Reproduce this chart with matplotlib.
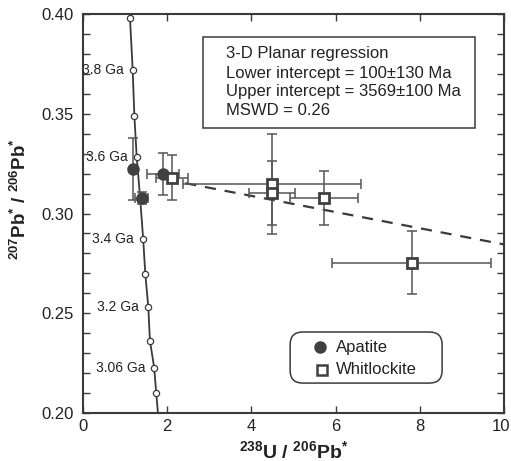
import matplotlib
matplotlib.use("Agg")
import matplotlib.pyplot as plt
import matplotlib.transforms as mtransforms
from matplotlib.patches import Rectangle, FancyBboxPatch
from matplotlib.ticker import MultipleLocator

plt.rcParams['font.family'] = ['Liberation Sans', 'DejaVu Sans']
plt.rcParams['mathtext.fontset'] = 'custom'
plt.rcParams['mathtext.rm'] = 'Liberation Sans'
plt.rcParams['mathtext.bf'] = 'Liberation Sans:bold'
plt.rcParams['mathtext.it'] = 'Liberation Sans:italic'

# Concordia curve
concordia_x = [1.11, 1.116, 1.18, 1.22, 1.275, 1.36, 1.43, 1.48, 1.55, 1.59, 1.69, 1.74, 1.78]
concordia_y = [0.400, 0.398, 0.372, 0.349, 0.3285, 0.307, 0.287, 0.2697, 0.2533, 0.2363, 0.2228, 0.210, 0.200]
# Age markers on concordia
marker_x = [1.116, 1.18, 1.22, 1.275, 1.36, 1.43, 1.48, 1.55, 1.59, 1.69, 1.74]
marker_y = [0.398, 0.372, 0.349, 0.3285, 0.307, 0.287, 0.2697, 0.2533, 0.2363, 0.2228, 0.210]
age_labels = ["", "3.8 Ga", "", "3.6 Ga", "", "3.4 Ga", "", "3.2 Ga", "", "3.06 Ga", ""]

# Apatite
apatite_x = [1.18, 1.39, 1.90]
apatite_y = [0.3222, 0.3077, 0.3198]
apatite_xerr = [0.03, 0.15, 0.37]
apatite_yerr = [0.0155, 0.003, 0.0103]

# Whitlockite
whit_x = [2.12, 4.49, 4.49, 5.73, 7.81]
whit_y = [0.3180, 0.3147, 0.3102, 0.3077, 0.2754]
whit_xerr = [0.38, 2.11, 0.55, 0.81, 1.89]
whit_yerr = [0.0113, 0.025, 0.016, 0.0135, 0.016]

# Regression line
reg_x = [2.43, 10.0]
reg_y = [0.3152, 0.2845]

xticks = [0, 2, 4, 6, 8, 10]
yticks = [0.20, 0.25, 0.30, 0.35, 0.40]

box_lines = ["3-D Planar regression",
             "Lower intercept = 100\u00b1130 Ma",
             "Upper intercept = 3569\u00b1100 Ma",
             "MSWD = 0.26"]

fig = plt.figure(figsize=(5.11, 4.61), dpi=100)
ax = fig.add_axes([83/511, 1-413/461, 421/511, 399/461])

dark = '#3a3a3a'
ebc = '#555555'

# concordia
ax.plot(concordia_x, concordia_y, color=dark, lw=1.3, zorder=2)
ax.plot(marker_x, marker_y, 'o', ms=4.5, mfc='white', mec=dark, mew=0.9, zorder=3)
for x, y, lab in zip(marker_x, marker_y, age_labels):
    if lab:
        ax.annotate(lab, (x, y), xytext=(-6.5, 0), textcoords='offset points',
                    ha='right', va='center', fontsize=10, color='#222222')

# regression dashed line
ax.plot(reg_x, reg_y, color=dark, lw=1.6, ls=(0, (5, 4)), zorder=2)

# error bars
ax.errorbar(apatite_x, apatite_y, xerr=apatite_xerr, yerr=apatite_yerr, fmt='none',
            ecolor=ebc, elinewidth=1.1, capsize=3.5, capthick=1.1, zorder=4)
ax.errorbar(whit_x, whit_y, xerr=whit_xerr, yerr=whit_yerr, fmt='none',
            ecolor=ebc, elinewidth=1.1, capsize=3.5, capthick=1.1, zorder=4)
ax.plot(apatite_x, apatite_y, 'o', ms=8, color='#404040', zorder=5)
ax.plot(whit_x, whit_y, 's', ms=7.5, mfc='white', mec='#404040', mew=2.0, zorder=5)

ax.set_xlim(0, 10)
ax.set_ylim(0.20, 0.40)
ax.set_xticks(xticks)
ax.set_yticks(yticks)
ax.set_xticklabels([str(t) for t in xticks])
ax.set_yticklabels([f"{t:.2f}" for t in yticks])
ax.yaxis.set_minor_locator(MultipleLocator(0.01))
ax.tick_params(which='both', direction='in', top=True, right=True, length=5,
               width=1.0, color=dark, labelsize=12, labelcolor='#222222')
ax.tick_params(axis='y', which='major', pad=7)
ax.tick_params(axis='x', which='major', pad=4)
for s in ax.spines.values():
    s.set_linewidth(1.5)
    s.set_color(dark)

# nudge the last x tick label ("10") slightly left so it stays inside the figure
last_lab = ax.get_xticklabels()[-1]
last_lab.set_transform(last_lab.get_transform() +
                       mtransforms.ScaledTranslation(-3/100, 0, fig.dpi_scale_trans))

ax.set_xlabel(r"$\mathbf{^{238}U\ /\ ^{206}Pb^{*}}$", fontsize=14, color='#222222')
ax.set_ylabel(r"$\mathbf{^{207}Pb^{*}\ /\ ^{206}Pb^{*}}$", fontsize=13.5, color='#222222')
ax.xaxis.set_label_coords(0.5, -0.068)
ax.yaxis.set_label_coords(-0.125, 0.536)

# text box
ax.add_patch(Rectangle((0.285, 0.714), 0.646, 0.229, transform=ax.transAxes,
                       fill=False, ec=dark, lw=1.1, zorder=6))
for line, yy in zip(box_lines, [0.902, 0.852, 0.807, 0.759]):
    ax.text(0.340, yy, line, transform=ax.transAxes, fontsize=12, va='center',
            ha='left', color='#222222', zorder=7)

# legend
ax.add_patch(FancyBboxPatch((0.492, 0.075), 0.361, 0.128, transform=ax.transAxes,
                            boxstyle='round,pad=0,rounding_size=0.03',
                            fill=True, fc='white', ec=dark, lw=1.1, zorder=6,
                            mutation_aspect=421/399))
ax.plot([0.562], [0.165], 'o', ms=8, color='#404040', transform=ax.transAxes, zorder=7)
ax.plot([0.567], [0.108], 's', ms=7, mfc='white', mec='#404040', mew=1.8,
        transform=ax.transAxes, zorder=7)
ax.text(0.600, 0.165, "Apatite", transform=ax.transAxes, fontsize=12, va='center',
        color='#222222', zorder=7)
ax.text(0.600, 0.108, "Whitlockite", transform=ax.transAxes, fontsize=12, va='center',
        color='#222222', zorder=7)

fig.savefig("out.png", dpi=100)
